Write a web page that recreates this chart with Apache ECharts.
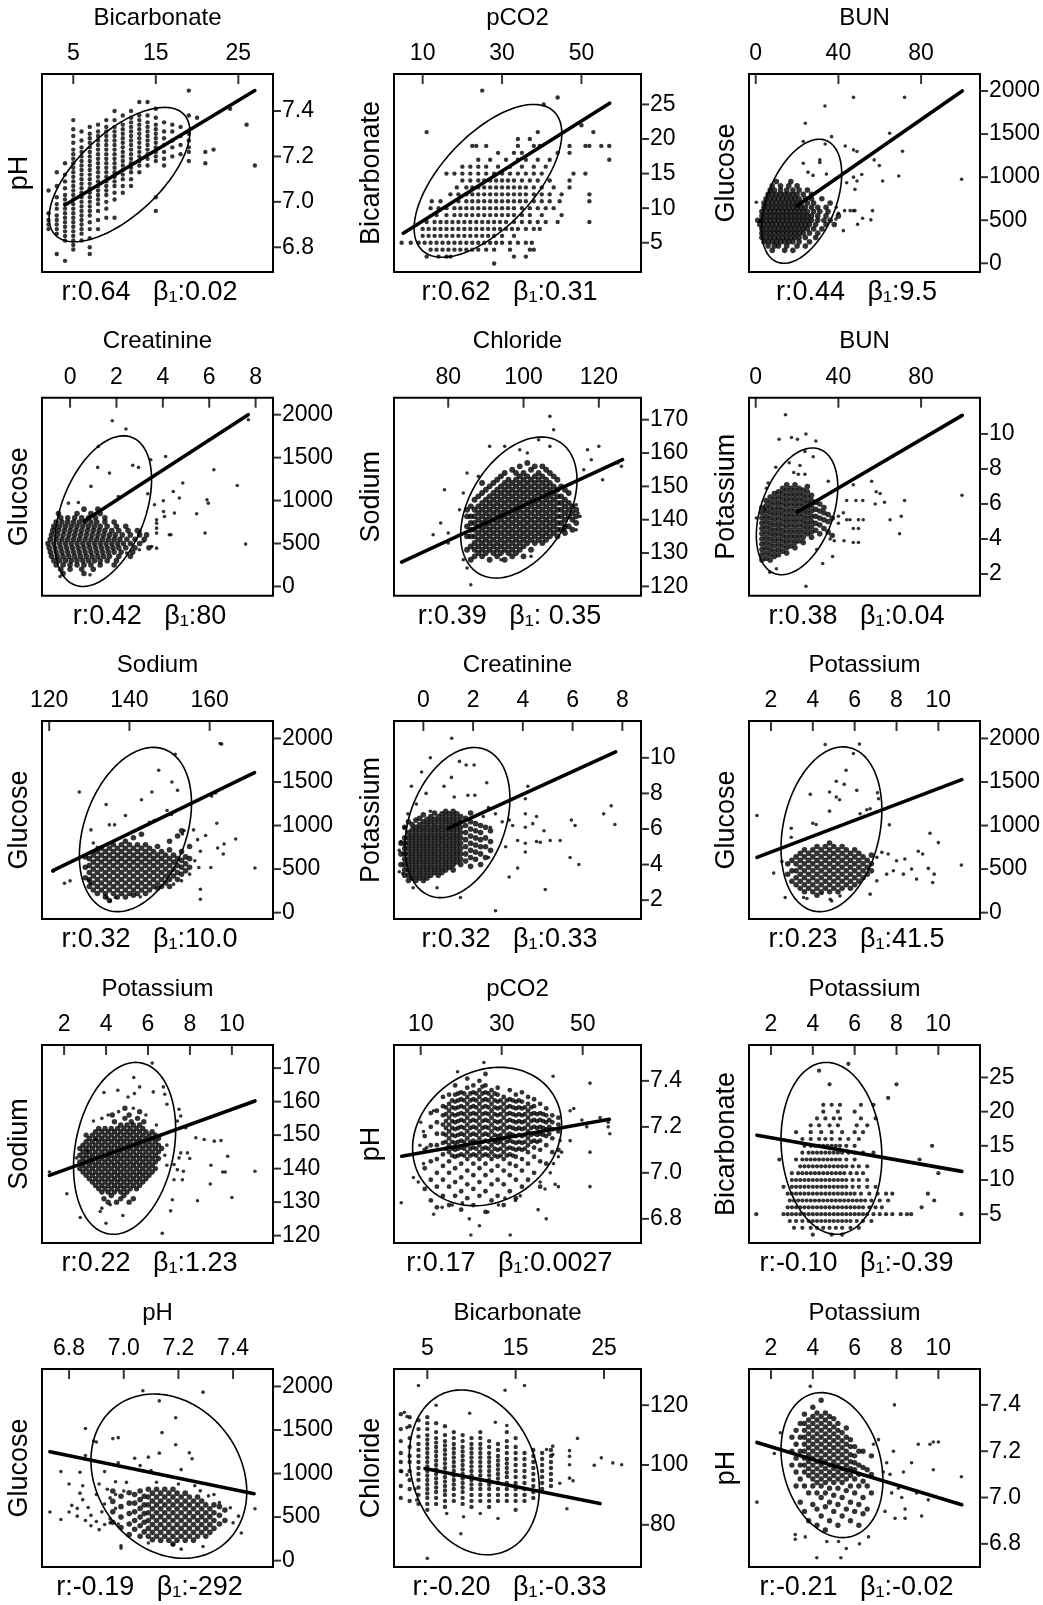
<!DOCTYPE html>
<html><head><meta charset="utf-8">
<script src="https://cdn.jsdelivr.net/npm/echarts@6/dist/echarts.min.js"></script>
<style>html,body{margin:0;padding:0;background:#fff}#c{width:1043px;height:1605px}</style>
</head><body><div id="c"></div>
<script>
// ---------- labels ----------
const xNames = ['Bicarbonate','pCO2','BUN','Creatinine','Chloride','BUN','Sodium','Creatinine','Potassium','Potassium','pCO2','Potassium','pH','Bicarbonate','Potassium'];
const yNames = ['pH','Bicarbonate','Glucose','Glucose','Sodium','Potassium','Glucose','Potassium','Glucose','Sodium','pH','Bicarbonate','Glucose','Chloride','pH'];
const rValues = ['0.64','0.62','0.44','0.42','0.39','0.38','0.32','0.32','0.23','0.22','0.17','-0.10','-0.19','-0.20','-0.21'];
const betaValues = ['0.02','0.31','9.5','80',' 0.35','0.04','10.0','0.33','41.5','1.23','0.0027','-0.39','-292','-0.33','-0.02'];
// ---------- axes ----------
const xRanges = [[1.21,29.2],[2.78,65.0],[-3.25,108.5],[-1.21,8.75],[65.6,131.2],[-3.25,108.5],[118.2,175.8],[-1.18,8.75],[0.95,11.99],[0.946,11.96],[3.41,64.4],[0.95,11.99],[6.701,7.546],[1.23,29.19],[0.95,11.99]];
const yRanges = [[6.691,7.563],[0.77,29.4],[-101,2197],[-108,2198],[117.2,176.6],[0.76,12.07],[-73,2200],[0.94,12.07],[-73,2200],[117.8,176.9],[6.695,7.556],[0.78,29.75],[-73,2200],[65.9,132.1],[6.70,7.555]];
const xTicks = [[5,15,25],[10,30,50],[0,40,80],[0,2,4,6,8],[80,100,120],[0,40,80],[120,140,160],[0,2,4,6,8],[2,4,6,8,10],[2,4,6,8,10],[10,30,50],[2,4,6,8,10],[6.8,7.0,7.2,7.4],[5,15,25],[2,4,6,8,10]];
const yTicks = [[6.8,7.0,7.2,7.4],[5,10,15,20,25],[0,500,1000,1500,2000],[0,500,1000,1500,2000],[120,130,140,150,160,170],[2,4,6,8,10],[0,500,1000,1500,2000],[2,4,6,8,10],[0,500,1000,1500,2000],[120,130,140,150,160,170],[6.8,7.0,7.2,7.4],[5,10,15,20,25],[0,500,1000,1500,2000],[80,100,120],[6.8,7.0,7.2,7.4]];
// ---------- ellipses [cx, cy, halfWidthX, halfHeightY, r] ----------
const ellipses = [[10.6,7.12,8.53,0.296,0.64],[26.45,13.95,18.6,11.05,0.62],[22.2,720,19.4,720,0.44],[1.43,877,2.085,877,0.42],[98.75,143.65,15.45,21.15,0.39],[20.0,5.58,19.7,3.62,0.38],[141.5,954,13.98,943,0.32],[1.37,6.36,2.11,4.22,0.32],[4.89,957,2.41,946,0.23],[4.885,146.05,2.435,25.65,0.22],[26.4,7.158,18.4,0.301,0.17],[4.89,14.63,2.41,12.57,-0.10],[7.165,970,0.285,943,-0.19],[10.32,97.55,7.36,27.55,-0.20],[4.915,7.14,2.435,0.313,-0.21]];
// ---------- fitted lines ----------
const fitLines = [[[4.0,6.986],[27.0,7.49]],[[5.12,6.38],[57.1,25.17]],[[20,668],[99.9,2000]],[[0.6,760],[7.68,2000]],[[67.6,127.3],[126.3,158.0]],[[20,5.53],[99.9,11.06]],[[120.9,481],[171.2,1608]],[[1.0,6.03],[7.73,10.34]],[[1.33,634],[11.12,1527]],[[1.3,138.0],[11.1,160.2]],[[5.3,7.072],[56.6,7.233]],[[1.33,16.56],[11.12,11.26]],[[6.73,1250],[7.477,769]],[[4.74,98.8],[24.55,87.1]],[[1.33,7.238],[11.12,6.969]]];

// ---------- points: columns [x, y...] or rows [y, x...] ----------
const phBicarbCols = [
[2,6.88,6.92,6.95,6.9,7.05],
[3,6.77,6.86,6.88,6.9,6.92,6.94,6.97,6.99,7.02,7.07,7.13],
[4,6.74,6.83,6.85,6.87,6.89,6.91,6.93,6.95,6.97,6.99,7.01,7.03,7.06,7.09,7.12,7.17],
[5,6.79,6.81,6.83,6.85,6.87,6.89,6.91,6.93,6.95,6.97,6.99,7.01,7.03,7.05,7.07,7.09,7.11,7.13,7.15,7.17,7.19,7.21,7.23,7.26,7.29,7.32,7.36],
[6,6.83,6.86,6.88,6.9,6.92,6.94,6.96,6.98,7.0,7.02,7.04,7.06,7.08,7.1,7.12,7.14,7.16,7.18,7.2,7.22,7.24,7.27,7.31],
[7,6.77,6.8,6.84,6.88,6.91,6.94,6.96,6.98,7.0,7.02,7.04,7.06,7.08,7.1,7.12,7.14,7.16,7.18,7.2,7.22,7.24,7.26,7.28,7.3,7.33],
[8,6.88,6.92,6.96,6.99,7.01,7.03,7.05,7.07,7.09,7.11,7.13,7.15,7.17,7.19,7.21,7.23,7.25,7.27,7.29,7.31,7.34],
[9,6.93,6.97,7.0,7.03,7.05,7.07,7.09,7.11,7.13,7.15,7.17,7.19,7.21,7.23,7.25,7.27,7.29,7.31,7.33,7.36],
[10,6.93,7.01,7.04,7.07,7.09,7.11,7.13,7.15,7.17,7.19,7.21,7.23,7.25,7.27,7.29,7.31,7.33,7.36,7.4],
[11,7.04,7.07,7.1,7.12,7.14,7.16,7.18,7.2,7.22,7.24,7.26,7.28,7.3,7.32,7.34,7.38],
[12,7.07,7.1,7.13,7.15,7.17,7.19,7.21,7.23,7.25,7.27,7.29,7.31,7.33,7.35,7.37,7.4],
[13,7.13,7.16,7.18,7.2,7.22,7.24,7.26,7.28,7.3,7.32,7.34,7.36,7.38,7.44],
[14,7.16,7.19,7.21,7.23,7.25,7.27,7.29,7.31,7.33,7.35,7.38,7.44],
[15,6.96,7.02,7.18,7.2,7.22,7.24,7.26,7.28,7.3,7.32,7.34,7.37,7.41],
[16,7.16,7.19,7.22,7.25,7.28,7.31,7.35],
[17,7.2,7.24,7.27,7.31,7.34],
[18,7.21,7.25,7.29,7.33],
[19,7.18,7.22,7.24,7.27,7.3,7.38,7.49],
[20,7.37],[21,7.17,7.22],[22,7.23],[24,7.41],[26,7.34],[27,7.16]
];
const bicarbPco2Rows = [
[2,28],
[3,11,14,16,17,33,36],
[4,12,13.5,15,16.5,18,19.5,21,22.5,24,26,28,32,37,38],
[5,4.7,7,9,10.5,12,13.5,15,16.5,18,19.5,21,22.5,24,25.5,27,28.5,30,32,34,36,37.5],
[6,10,11.5,13,14.5,16,17.5,19,20.5,22,23.5,25,26.5,28,30,33],
[7,10,11.5,13,14.5,16,17.5,19,20.5,22,23.5,25,26.5,28,29.5,31,32.5,34,36,38,39.5],
[8,11,13,14.5,16,17.5,19,20.5,22,23.5,25,26.5,28,29.5,31,33,35,37,39,41,44,52],
[9,13.5,16,18,19.5,21,22.5,24,25.5,27,28.5,30,31.5,33,35,37,40,45],
[10,12,14,16,18,19.5,21,22.5,24,25.5,27,28.5,30,31.5,33,35,37,39,41,43],
[11,12.3,14.5,19,21,22.5,24,25.5,27,28.5,30,31.5,33,34.5,36,38,40,42,44.5,52],
[12,17,19,21,22.5,24,25.5,27,28.5,30,31.5,33,34.5,36,38,40,42,45,52],
[13,18.6,21,22.5,24,25.5,27,28.5,30,31.5,33,34.5,36,38,40,43,47],
[14,20,22,24,25.5,27,28.5,30,31.5,33,35,37,39,42,47],
[15,16,18,20,22,24,26,28,30,32,34,36,38,40,48,51],
[16,20,22,24,26,29,32,35,38,41],
[17,24,27,31,34,36,39,42,57],
[18,29,33,35,44,47],
[19,22.5,23.5,26,34,38,39.5,47,51,52,55,57],
[20,34,37],[21,11,39,53],[22,50],[25,40.5],[26,44],[27,25]
];
const glucoseBunRows = [
[150,8,14,18],
[200,6,9,11,15,20,24],
[250,4,6,8,10,12,14,16,18,21,26],
[300,3,5,7,9,11,13,15,17,19,21,24,29],
[350,3,5,7,9,11,13,15,17,19,21,23,26,30],
[400,3,5,7,9,11,13,15,17,19,21,23,25,28,32],
[450,2,4,6,8,10,12,14,16,18,20,22,24,26,29,34,38],
[500,1,3,5,7,9,11,13,15,17,19,21,23,25,27,30,33,36],
[550,3,5,7,9,11,13,15,17,19,21,23,25,27,30,34,40],
[600,3,5,7,9,11,13,15,17,19,21,23,25,28,31,35],
[650,4,6,8,10,12,14,16,18,20,22,24,27,30,34],
[700,4,6,8,10,12,14,16,18,20,22,25,28,36],
[750,5,7,9,11,13,15,17,19,21,24,27,32],
[800,6,8,10,12,14,16,18,20,23,27],
[850,7,9,12,15,18,21,25],
[900,8,12,16,20],
[950,10,17]
];
const glucoseBunExtra = [[0.3,708],[2,490],[47.3,1926],[72,1926],[33.5,1826],[24,1625],[64.8,1509],[36.7,1470],[23,1413],[33.6,1385],[43.3,1362],[47.3,1316],[49,1297],[71,1300],[57.3,1200],[59.8,1134],[31,1200],[31,1170],[23,1162],[25.3,1058],[27.7,1020],[34.2,1035],[51.3,1030],[47.3,1000],[49,955],[44,935],[48,858],[61.4,955],[69.2,1014],[99.6,975],[43,611],[45.7,611],[47.3,611],[48,611],[56.5,611],[51.7,522],[49.3,452],[55.7,504],[42.4,379],[38.8,513],[40,580],[39,650]];
const glucoseCreatRows = [
[150,-0.3,0.6],
[200,-0.4,0,0.5,1.0],
[250,-0.6,-0.3,0,0.3,0.6,0.9,1.3,1.9],
[300,-0.7,-0.45,-0.2,0.05,0.3,0.55,0.8,1.05,1.3,1.6,2.0],
[350,-0.8,-0.55,-0.3,-0.05,0.2,0.45,0.7,0.95,1.2,1.45,1.7,2.1,2.6],
[400,-0.85,-0.6,-0.35,-0.1,0.15,0.4,0.65,0.9,1.15,1.4,1.65,1.9,2.2,2.7],
[450,-0.9,-0.65,-0.4,-0.15,0.1,0.35,0.6,0.85,1.1,1.35,1.6,1.85,2.1,2.4,2.8,3.4],
[500,-0.95,-0.7,-0.45,-0.2,0.05,0.3,0.55,0.8,1.05,1.3,1.55,1.8,2.05,2.3,2.6,3.0],
[550,-0.85,-0.6,-0.35,-0.1,0.15,0.4,0.65,0.9,1.15,1.4,1.65,1.9,2.15,2.45,2.8,3.2],
[600,-0.8,-0.55,-0.3,-0.05,0.2,0.45,0.7,0.95,1.2,1.45,1.7,1.95,2.25,2.6,3.0,3.3],
[650,-0.75,-0.5,-0.25,0,0.25,0.5,0.75,1.0,1.25,1.5,1.8,2.1,2.5,2.9],
[700,-0.7,-0.45,-0.2,0.05,0.3,0.55,0.8,1.05,1.3,1.6,2.0,2.4],
[750,-0.6,-0.35,-0.1,0.15,0.4,0.65,0.9,1.15,1.5,1.9],
[800,-0.4,-0.1,0.2,0.5,0.8,1.1,1.5],
[850,-0.5,0.3,0.9,1.3],
[900,0.6,1.2]
];
const glucoseCreatExtra = [[1.82,1930],[2.41,1833],[1.22,1631],[1.19,1386],[1.7,1320],[2.7,1410],[2.95,1386],[3.48,1475],[4.12,1514],[0.9,1165],[2.08,1048],[3.35,1079],[4.86,1204],[4.45,1106],[4.02,998],[4.71,1029],[3.64,951],[4.03,873],[4.07,815],[4.5,854],[5.46,846],[5.9,1009],[5.96,970],[6.2,1359],[7.21,1176],[7.69,1942],[5.82,621],[7.57,493],[3.73,776],[3.73,737],[3.73,679],[3.73,621],[4.28,601],[4.35,601],[3.52,465],[3.73,446],[2.99,427],[3.16,524],[3.02,640],[-0.07,970],[0.36,978],[-0.43,116],[0.86,135],[2.44,388]];
const sodiumChlorideCols = [
[85,131,135,138,141,143],
[86,128,132,135,137,139,141,144],
[87,129,131,133,135,137,139,141,143,146],
[88,130,132,134,136,138,140,142,144,147],
[89,129,131,133,135,137,139,141,143,145,148,151],
[90,130,132,134,136,138,140,142,144,146,149],
[91,128,131,133,135,137,139,141,143,145,147,150],
[92,130,132,134,136,138,140,142,144,146,148,151],
[93,129,131,133,135,137,139,141,143,145,147,149,152],
[94,130,132,134,136,138,140,142,144,146,148,150,153],
[95,128,131,133,135,137,139,141,143,145,147,149,151,154],
[96,130,132,134,136,138,140,142,144,146,148,150,152],
[97,129,131,133,135,137,139,141,143,145,147,149,151,155],
[98,130,132,134,136,138,140,142,144,146,148,150,152,154],
[99,131,133,135,137,139,141,143,145,147,149,151,153,156],
[100,129,132,134,136,138,140,142,144,146,148,150,152,154],
[101,133,135,137,139,141,143,145,147,149,151,153,157],
[102,131,134,136,138,140,142,144,146,148,150,152,155],
[103,133,135,137,139,141,143,145,147,149,151,153,156],
[104,134,136,138,140,142,144,146,148,150,152,154],
[105,133,135,137,139,141,143,145,147,149,151,153,156],
[106,134,136,138,140,142,144,146,148,150,152,155],
[107,135,137,139,141,143,145,147,149,151,154],
[108,136,138,140,142,144,146,148,150,153],
[109,135,137,139,141,143,145,147,149,152],
[110,137,139,141,143,145,147,150],
[111,136,138,140,142,144,146,149],
[112,138,141,143,145,148],
[113,137,140,142,144],
[114,139,141,143]
];
const sodiumChlorideExtra = [[107,171],[108,167],[104,164],[107,162],[91,162],[95,162],[99,161],[101,160],[117,161],[120,162],[118,158],[116,155],[125,157],[126,156],[121,152],[85,154],[88,153],[79,149],[84,148],[78,139],[76,135.5],[80,136],[80,133],[83,143],[84,128],[85,125.5],[86,120.5],[94,128],[102,129],[114,144.5],[114,137],[114.5,142],[115,141],[111,137]];
const potassiumBunCols = [
[3,2.8,3.1,3.4,3.7,4.0,4.3,4.6,4.9,5.2,5.5,5.8],
[5,2.9,3.2,3.5,3.8,4.1,4.4,4.7,5.0,5.3,5.6,5.9,6.2],
[7,2.8,3.1,3.4,3.7,4.0,4.3,4.6,4.9,5.2,5.5,5.8,6.1,6.4],
[9,3.0,3.3,3.6,3.9,4.2,4.5,4.8,5.1,5.4,5.7,6.0,6.3,6.6],
[11,3.1,3.4,3.7,4.0,4.3,4.6,4.9,5.2,5.5,5.8,6.1,6.4,6.7],
[13,3.3,3.6,3.9,4.2,4.5,4.8,5.1,5.4,5.7,6.0,6.3,6.6,6.9],
[15,3.2,3.5,3.8,4.1,4.4,4.7,5.0,5.3,5.6,5.9,6.2,6.5,6.8,7.1],
[17,3.6,3.9,4.2,4.5,4.8,5.1,5.4,5.7,6.0,6.3,6.6,6.9],
[19,3.5,3.8,4.1,4.4,4.7,5.0,5.3,5.6,5.9,6.2,6.5,6.8,7.1],
[21,3.9,4.2,4.5,4.8,5.1,5.4,5.7,6.0,6.3,6.6,6.9],
[23,3.8,4.1,4.4,4.7,5.0,5.3,5.6,5.9,6.2,6.5,6.8],
[25,4.3,4.6,4.9,5.2,5.5,5.8,6.1,6.4,6.7,7.0],
[27,4.1,4.4,4.7,5.0,5.3,5.6,5.9,6.2,6.5],
[29,4.5,4.9,5.3,5.7,6.1],
[31,4.3,4.8,5.2,5.6,6.0],
[33,4.6,5.1,5.5,5.8],
[35,4.4,5.0,5.4],
[37,4.2,5.2]
];
const potassiumBunExtra = [[14.4,11.1],[11.3,9.7],[17.3,9.8],[20.2,9.7],[24.3,10.0],[29.1,9.6],[23.8,9.0],[27.8,8.7],[9.7,8.1],[21.4,8.2],[16.2,8.35],[18.4,7.8],[20.6,7.7],[23.8,7.7],[6.0,7.2],[5.2,6.9],[0.3,5.2],[4.4,5.7],[6.8,2.1],[10,2.3],[24.3,1.3],[32.4,2.6],[37.2,3.0],[29.5,3.4],[36,4.0],[38,3.9],[42.7,3.9],[47.2,3.8],[49.7,3.8],[47.2,4.6],[49.7,4.6],[44,5.1],[45.6,5.1],[49.7,5.1],[52,5.1],[40,4.9],[40,5.3],[42.4,5.5],[44,6.2],[48.5,6.2],[51.8,6.2],[35.1,7.3],[47.2,7.1],[56.1,7.3],[58.3,6.7],[60.2,6.6],[62.3,6.1],[57.8,6.0],[65,5.1],[70.4,5.3],[72,6.2],[69.6,4.3],[99.8,6.5]];
const glucoseSodiumCols = [
[129,400,520,640],
[130,300,380,460,540,620],
[131,260,340,420,500,580,660],
[132,220,300,380,460,540,620,700],
[133,260,340,420,500,580,660,740],
[134,180,220,300,380,460,540,620,700],
[135,140,260,340,420,500,580,660,740],
[136,220,300,380,460,540,620,700,780],
[137,180,260,340,420,500,580,660,740],
[138,220,300,380,460,540,620,700,780],
[139,180,260,340,420,500,580,660,740,820],
[140,220,300,380,460,540,620,700,780],
[141,200,260,340,420,500,580,660,740,860],
[142,220,300,380,460,540,620,700,780],
[143,260,340,420,500,580,660,740,900],
[144,220,300,380,460,540,620,700,780],
[145,260,340,420,500,580,660,740],
[146,300,380,460,540,620,700],
[147,280,340,420,500,580,660,760],
[148,300,380,460,540,620,700],
[149,340,420,500,580,660],
[150,300,380,460,540,620,720,820],
[151,420,500,580,660],
[152,380,460,540,620,880],
[153,440,520,600,700,940],
[154,480,560,640],
[155,520,620,760]
];
const glucoseSodiumExtra = [[121,475],[123.8,338],[125.2,365],[127.5,1385],[134.2,1242],[139,1115],[135,1008],[136.3,1008],[130.4,950],[131,800],[132,750],[143,1296],[145.6,1385],[147.3,1635],[150.6,1500],[152,1404],[151.4,1819],[150.5,1127],[149.4,1173],[146.2,1058],[145,1038],[153.6,942],[153.2,904],[156,950],[157,838],[159,885],[157.7,704],[157.7,269],[157.7,154],[160.3,519],[161.8,1027],[162,742],[163.6,788],[163.4,673],[160.5,1338],[161.5,1373],[162.6,1942],[163,1935],[166.5,846],[171.3,512],[156.3,596],[157.3,519],[155,442],[153,365],[151,327],[136.5,173],[134.4,173],[135.2,135],[142.7,181],[129.8,365],[130.2,335]];
const potassiumCreatCols = [
[-0.9,4.0,4.6,5.2],
[-0.75,3.4,3.7,4.0,4.3,4.6,4.9,5.2,5.5,6.1],
[-0.6,3.1,3.4,3.7,4.0,4.3,4.6,4.9,5.2,5.5,5.8,6.4],
[-0.45,3.25,3.55,3.85,4.15,4.45,4.75,5.05,5.35,5.65,5.95,6.25],
[-0.3,3.1,3.4,3.7,4.0,4.3,4.6,4.9,5.2,5.5,5.8,6.1,6.5],
[-0.15,3.25,3.55,3.85,4.15,4.45,4.75,5.05,5.35,5.65,5.95,6.25,6.6],
[0,3.1,3.4,3.7,4.0,4.3,4.6,4.9,5.2,5.5,5.8,6.1,6.4,6.8],
[0.15,3.25,3.55,3.85,4.15,4.45,4.75,5.05,5.35,5.65,5.95,6.25,6.55],
[0.3,3.4,3.7,4.0,4.3,4.6,4.9,5.2,5.5,5.8,6.1,6.4,6.7],
[0.45,3.55,3.85,4.15,4.45,4.75,5.05,5.35,5.65,5.95,6.25,6.55,6.9],
[0.6,3.4,3.7,4.0,4.3,4.6,4.9,5.2,5.5,5.8,6.1,6.4,6.7],
[0.75,3.55,3.85,4.15,4.45,4.75,5.05,5.35,5.65,5.95,6.25,6.55,6.85],
[0.9,3.7,4.0,4.3,4.6,4.9,5.2,5.5,5.8,6.1,6.4,6.7,7.0],
[1.05,3.85,4.15,4.45,4.75,5.05,5.35,5.65,5.95,6.25,6.55,6.85],
[1.2,3.7,4.0,4.3,4.6,4.9,5.2,5.5,5.8,6.1,6.4,6.7,7.0],
[1.35,4.15,4.45,4.75,5.05,5.35,5.65,5.95,6.25,6.55,6.85],
[1.5,4.0,4.3,4.6,4.9,5.2,5.5,5.8,6.1,6.4,6.7],
[1.7,4.2,4.6,5.0,5.4,5.8,6.2,6.6],
[1.9,3.9,4.4,4.8,5.2,5.6,6.0,6.4,6.9],
[2.1,4.3,4.7,5.1,5.5,5.9,6.3],
[2.3,4.0,4.6,5.0,5.4,5.8,6.2],
[2.5,4.4,5.0,5.5,6.1],
[2.7,4.8,5.3,5.9]
];
const potassiumCreatExtra = [[1.14,11.1],[0.28,10.0],[-0.07,9.2],[1.45,9.8],[1.72,9.6],[2.04,9.6],[2.55,8.6],[1.13,8.9],[-0.48,8.4],[0.83,8.4],[0.11,8.0],[1.24,7.8],[1.79,7.9],[2.07,7.9],[-0.28,7.4],[0.28,7.0],[2.62,7.2],[2.41,6.7],[2.69,6.1],[2.9,6.85],[3.17,6.4],[3.45,6.5],[3.59,6.2],[3.79,5.35],[3.31,5.0],[3.79,3.8],[3.45,3.3],[2.62,4.4],[2.9,1.4],[1.49,2.15],[0.55,2.7],[-0.41,2.7],[-0.83,3.5],[-0.97,3.6],[-0.97,4.8],[-0.9,5.3],[-0.76,6.1],[-0.62,6.85],[4.2,8.4],[4.1,7.7],[4.1,6.85],[4.55,6.7],[4.4,6.3],[4.1,6.1],[4.85,5.9],[5.1,5.35],[4.55,5.3],[4.7,5.25],[4.1,5.2],[4.1,4.7],[5.5,5.35],[5.95,6.5],[6.1,6.2],[5.9,4.4],[6.25,4.0],[4.9,2.6],[7.25,6.85],[7.55,7.3],[7.7,6.25]];
const glucoseKCols = [
[2.8,440,560],
[3.0,360,480,600],
[3.2,320,400,480,560,640],
[3.4,280,360,440,520,600,680],
[3.6,240,320,400,480,560,640,720],
[3.8,280,360,440,520,600,680],
[4.0,240,320,400,480,560,640,720],
[4.2,200,280,360,440,520,600,680,760],
[4.4,240,320,400,480,560,640,720],
[4.6,280,360,440,520,600,680,760],
[4.8,240,320,400,480,560,640,720,800],
[5.0,280,360,440,520,600,680,760],
[5.2,240,320,400,480,560,640,720],
[5.4,280,360,440,520,600,680,760],
[5.6,320,400,480,560,640,720],
[5.8,280,360,440,520,600,680],
[6.0,320,400,480,560,640,720],
[6.2,360,440,520,600,680],
[6.4,400,480,560,640],
[6.6,440,520,600],
[6.8,480,560,660]
];
const glucoseKExtra = [[1.33,1115],[4.59,1931],[6.23,1935],[5.94,1827],[5.59,1635],[5.12,1508],[5.5,1473],[3.88,1358],[4.8,1385],[5.12,1327],[5.28,1296],[6.1,1404],[7.09,1377],[7.14,1308],[6.74,1192],[6.58,1181],[6.26,1135],[4.8,1165],[4.0,1027],[4.16,1012],[2.97,969],[2.97,865],[7.66,1008],[9.6,912],[10,804],[9.04,704],[9.25,673],[9.52,508],[9.8,442],[8.96,385],[9.73,346],[8.0,596],[8.4,615],[8.72,500],[8.33,442],[7.85,481],[7.53,442],[7.6,673],[7.3,692],[7.06,635],[11.1,546],[2.13,454],[2.68,173],[3.56,173],[3.72,162],[4.43,219],[4.83,154],[4.9,135],[5.3,192],[6.74,212],[7.06,365],[2.52,588]];
const sodiumKRows = [
[130,4.1,4.5,5.1],
[131,3.9,4.7,5.3],
[132,4.25,4.85],
[133,3.8,4.1,4.4,4.7,5.0],
[134,3.65,3.95,4.25,4.55,4.85,5.15,5.45],
[135,3.5,3.8,4.1,4.4,4.7,5.0,5.3,5.6],
[136,3.35,3.65,3.95,4.25,4.55,4.85,5.15,5.45,5.75],
[137,3.2,3.5,3.8,4.1,4.4,4.7,5.0,5.3,5.6,5.9],
[138,3.05,3.35,3.65,3.95,4.25,4.55,4.85,5.15,5.45,5.75,6.05],
[139,2.9,3.2,3.5,3.8,4.1,4.4,4.7,5.0,5.3,5.6,5.9,6.2],
[140,2.75,3.05,3.35,3.65,3.95,4.25,4.55,4.85,5.15,5.45,5.75,6.05,6.35],
[141,2.9,3.2,3.5,3.8,4.1,4.4,4.7,5.0,5.3,5.6,5.9,6.2],
[142,2.75,3.05,3.35,3.65,3.95,4.25,4.55,4.85,5.15,5.45,5.75,6.05,6.35],
[143,2.9,3.2,3.5,3.8,4.1,4.4,4.7,5.0,5.3,5.6,5.9,6.2,6.5],
[144,2.75,3.05,3.35,3.65,3.95,4.25,4.55,4.85,5.15,5.45,5.75,6.05,6.35],
[145,2.9,3.2,3.5,3.8,4.1,4.4,4.7,5.0,5.3,5.6,5.9,6.2,6.5],
[146,2.75,3.05,3.35,3.65,3.95,4.25,4.55,4.85,5.15,5.45,5.75,6.05,6.35,6.65],
[147,2.9,3.2,3.5,3.8,4.1,4.4,4.7,5.0,5.3,5.6,5.9,6.2,6.5],
[148,3.05,3.35,3.65,3.95,4.25,4.55,4.85,5.15,5.45,5.75,6.05,6.35],
[149,3.2,3.5,3.8,4.1,4.4,4.7,5.0,5.3,5.6,5.9,6.2,6.5],
[150,3.05,3.35,3.65,3.95,4.25,4.55,4.85,5.15,5.45,5.75,6.05,6.35],
[151,3.5,3.8,4.1,4.4,4.7,5.0,5.3,5.6,5.9,6.2],
[152,3.65,3.95,4.25,4.55,4.85,5.15,5.45,5.75],
[153,4.7,5.0,5.3,5.6],
[154,4.4,5.2,5.8],
[155,4.9,5.5],
[156,4.3,5.1],
[157,5.6],
[158,4.9]
];
const sodiumKExtra = [[6.2,171.5],[5.32,167.2],[3.9,162.7],[4.56,163.4],[5.05,161.4],[5.35,162.4],[5.6,164.4],[6.25,162.9],[6.73,164.4],[6.8,162.2],[6.9,159.2],[7.48,157.7],[7.56,155.7],[7.4,154.2],[7.8,152.2],[8.28,149.2],[8.68,148.7],[9.16,148.2],[9.48,148.4],[7.56,144.7],[7.88,144.7],[7.99,143],[7.48,143.2],[7.24,141.2],[7.4,139.7],[9.0,141],[9.8,143.7],[9.56,139],[9.68,139],[11.1,139.2],[7.24,136.7],[7.69,139.2],[7.64,136.7],[8.97,135.4],[10,131.4],[8.36,130.4],[7.16,130.7],[7.08,127.4],[6.68,120.7],[2.77,125.4],[4.0,123.7],[4.8,126],[3.72,127.2],[3.8,128.2],[4.2,129.2],[2.13,132.5],[1.3,139],[2.6,143.2],[3.1,145.2],[3.4,154.2],[3.5,148.7],[4.6,157],[5.3,158],[4.1,156],[3.8,155],[5.9,156],[6.4,153],[6.6,150],[6.9,147],[6.8,144],[6.9,141]];
const phPco2Cols = [
[11,6.93,7.02,7.1,7.16],
[12.5,6.88,6.97,7.05,7.12,7.2,7.26],
[14,6.85,6.94,7.0,7.06,7.12,7.17,7.22,7.27],
[15.5,6.9,6.97,7.03,7.08,7.13,7.17,7.21,7.25,7.29,7.33],
[17,6.86,6.94,7.0,7.05,7.09,7.12,7.15,7.18,7.21,7.24,7.27,7.3,7.34],
[18.5,6.9,6.96,7.02,7.07,7.1,7.13,7.16,7.19,7.22,7.25,7.28,7.31,7.34,7.38],
[20,6.84,6.92,6.98,7.04,7.08,7.11,7.14,7.17,7.2,7.23,7.26,7.29,7.32,7.35],
[21.5,6.89,6.95,7.01,7.06,7.09,7.12,7.15,7.18,7.21,7.24,7.27,7.3,7.33,7.37,7.41],
[23,6.86,6.93,6.99,7.04,7.08,7.11,7.14,7.17,7.2,7.23,7.26,7.29,7.32,7.35,7.38],
[24.5,6.9,6.96,7.02,7.06,7.09,7.12,7.15,7.18,7.21,7.24,7.27,7.3,7.33,7.36,7.4],
[26,6.83,6.92,6.99,7.04,7.08,7.11,7.14,7.17,7.2,7.23,7.26,7.29,7.32,7.35,7.38,7.43],
[27.5,6.88,6.95,7.01,7.06,7.09,7.12,7.15,7.18,7.21,7.24,7.27,7.3,7.33,7.36],
[29,6.9,6.97,7.03,7.07,7.1,7.13,7.16,7.19,7.22,7.25,7.28,7.31,7.34,7.37],
[30.5,6.86,6.95,7.01,7.06,7.09,7.12,7.15,7.18,7.21,7.24,7.27,7.3,7.33],
[32,6.92,6.99,7.04,7.08,7.11,7.14,7.17,7.2,7.23,7.26,7.29,7.32,7.36],
[33.5,6.89,6.97,7.03,7.07,7.1,7.13,7.16,7.19,7.22,7.25,7.28,7.31,7.34],
[35,6.94,7.01,7.06,7.1,7.13,7.16,7.19,7.22,7.25,7.28,7.31,7.35],
[36.5,6.97,7.04,7.09,7.12,7.15,7.18,7.21,7.24,7.27,7.3,7.33],
[38,7.0,7.07,7.11,7.14,7.17,7.2,7.23,7.26,7.29,7.32],
[39.5,6.94,7.05,7.1,7.14,7.17,7.2,7.23,7.26,7.3],
[41,7.04,7.12,7.16,7.19,7.22,7.25,7.28],
[42.5,7.09,7.15,7.19,7.22,7.25],
[44,7.1,7.18,7.21,7.24],
[16.25,7.105,7.135,7.165,7.195,7.225,7.255,7.285],
[17.75,7.075,7.105,7.135,7.165,7.195,7.225,7.255,7.285,7.315],
[19.25,7.075,7.105,7.135,7.165,7.195,7.225,7.255,7.285,7.315,7.345],
[20.75,7.075,7.105,7.135,7.165,7.195,7.225,7.255,7.285,7.315,7.345],
[22.25,7.075,7.105,7.135,7.165,7.195,7.225,7.255,7.285,7.315,7.345],
[23.75,7.075,7.105,7.135,7.165,7.195,7.225,7.255,7.285,7.315,7.345],
[25.25,7.075,7.105,7.135,7.165,7.195,7.225,7.255,7.285,7.315,7.345,7.375],
[26.75,7.075,7.105,7.135,7.165,7.195,7.225,7.255,7.285,7.315,7.345],
[28.25,7.075,7.105,7.135,7.165,7.195,7.225,7.255,7.285,7.315,7.345],
[29.75,7.075,7.105,7.135,7.165,7.195,7.225,7.255,7.285,7.315],
[31.25,7.075,7.105,7.135,7.165,7.195,7.225,7.255,7.285,7.315],
[32.75,7.075,7.105,7.135,7.165,7.195,7.225,7.255,7.285,7.315],
[34.25,7.105,7.135,7.165,7.195,7.225,7.255,7.285,7.315],
[35.75,7.105,7.135,7.165,7.195,7.225,7.255,7.285],
[37.25,7.135,7.165,7.195,7.225,7.255,7.285],
[38.75,7.135,7.165,7.195,7.225,7.255],
[40.25,7.165,7.195,7.225,7.255],
[41.75,7.17,7.2,7.23]
];
const phPco2Extra = [[5.2,6.87],[25.6,7.48],[19.1,7.44],[8.2,6.98],[9.4,6.96],[10.7,7.04],[13.2,7.27],[10.7,7.18],[10,7.22],[11.5,7.11],[9.8,7.12],[13.2,6.82],[15.3,6.85],[17.8,6.86],[20.3,6.87],[22,6.8],[24.5,6.77],[22.4,6.73],[32.1,6.73],[26.6,6.83],[29.2,6.86],[30.8,6.89],[33.4,6.88],[34.6,6.9],[42.7,7.42],[51.8,7.39],[46.9,7.27],[47.8,7.28],[49.8,7.23],[51,7.2],[54.3,7.24],[56.3,7.22],[56.3,7.2],[56.7,7.17],[51.8,7.09],[44.4,7.14],[44.8,7.09],[46.9,7.14],[44,7.07],[42.8,7.04],[42,7.0],[39.5,6.96],[40.7,6.93],[43.2,6.95],[44,6.94],[51.8,6.94],[39,6.84],[41,6.8]];
const bicarbKRows = [
[2,4.0,4.9,5.4],
[3,3.1,3.5,3.9,4.2,4.5,4.8,5.1,5.4,5.8,6.2],
[4,2.9,3.2,3.5,3.8,4.0,4.2,4.4,4.6,4.8,5.0,5.2,5.4,5.6,5.8,6.1,6.4,6.8],
[5,1.3,2.6,2.8,3.0,3.2,3.4,3.6,3.8,4.0,4.2,4.4,4.6,4.8,5.0,5.2,5.4,5.6,5.8,6.0,6.2,6.4,6.6,6.9,7.2,7.5,7.8,8.2,8.5,8.7,11.1],
[6,2.8,3.0,3.2,3.4,3.6,3.8,4.0,4.2,4.4,4.6,4.8,5.0,5.2,5.4,5.6,5.8,6.0,6.2,6.4,6.7,7.0,7.3,9.2],
[7,2.9,3.1,3.3,3.5,3.7,3.9,4.1,4.3,4.5,4.7,4.9,5.1,5.3,5.5,5.7,5.9,6.1,6.3,6.5,6.8,7.2,7.6,9.8],
[8,2.8,3.0,3.2,3.4,3.6,3.8,4.0,4.2,4.4,4.6,4.8,5.0,5.2,5.4,5.6,5.8,6.0,6.3,6.7,7.1,7.5,7.8,9.5],
[9,2.6,3.0,3.2,3.4,3.6,3.8,4.0,4.2,4.4,4.6,4.8,5.0,5.2,5.4,5.6,5.9,6.2,6.6,7.0],
[10,3.0,3.2,3.4,3.6,3.8,4.0,4.2,4.4,4.6,4.8,5.0,5.2,5.4,5.6,5.9,6.2,6.6],
[11,3.0,3.3,3.5,3.7,3.9,4.1,4.3,4.5,4.7,4.9,5.1,5.3,5.5,5.8,6.1,6.4,10.0],
[12,3.4,3.6,3.8,4.0,4.2,4.4,4.6,4.8,5.0,5.2,5.4,5.6,5.9,6.2,6.6],
[13,2.4,3.2,3.5,3.7,3.9,4.1,4.3,4.5,4.7,4.9,5.1,5.3,5.6,6.0,9.1],
[14,3.5,3.8,4.0,4.2,4.4,4.6,4.8,5.0,5.2,5.4,5.7,6.0,6.4,6.9],
[15,3.6,3.9,4.1,4.3,4.5,4.7,4.9,5.1,5.3,5.6,6.0,9.7],
[16,3.5,3.9,4.3,4.6,4.9,5.3,5.7,6.2],
[17,3.2,3.9,4.4,4.9,5.4,6.0,6.4],
[18,3.9,4.3,4.8,5.2,6.1,6.6],
[19,4.2,4.6,5.0,5.3,6.3,7.0],
[20,4.5,5.2,6.0],
[21,4.5,4.9,5.3,6.3,6.9],
[22,7.6],[24,4.8,8.0],[26,4.3],[27,5.7]
];
const glucosePhCols = [
[6.96,440,560,680,800],
[6.99,380,500,620,740],
[7.02,300,420,540,660,780],
[7.04,360,460,560,660,760],
[7.06,280,400,500,600,700,800],
[7.075,330,440,540,640,740],
[7.09,280,370,460,550,640,730,820],
[7.105,240,325,415,505,595,685,775],
[7.12,280,370,460,550,640,730,820],
[7.135,235,325,415,505,595,685,775],
[7.15,280,370,460,550,640,730,820],
[7.165,235,325,415,505,595,685,775],
[7.18,190,280,370,460,550,640,730,820],
[7.195,235,325,415,505,595,685,775],
[7.21,280,370,460,550,640,730],
[7.225,235,325,415,505,595,685,775],
[7.24,280,370,460,550,640,730],
[7.255,235,325,415,505,595,685],
[7.27,280,370,460,550,640,730],
[7.285,325,415,505,595,685],
[7.3,280,370,460,550,640],
[7.315,325,415,505,595],
[7.33,370,460,550,640],
[7.35,420,520,620],
[7.37,460,580]
];
const glucosePhExtra = [[6.73,558],[6.77,473],[6.8,558],[6.81,635],[6.83,511],[6.77,1022],[6.84,1014],[6.86,1517],[6.8,879],[6.85,859],[6.84,775],[6.89,1374],[6.9,1362],[6.96,1401],[6.98,1412],[6.86,1207],[6.98,1122],[7.04,1176],[7.06,1091],[6.93,1022],[6.97,906],[7.01,898],[7.07,1950],[7.29,1934],[7.13,1834],[7.19,1640],[7.14,1470],[7.09,1188],[7.13,1234],[7.19,1331],[7.24,1238],[7.25,1169],[7.21,1045],[7.16,975],[7.07,1033],[7.1,1033],[7.28,801],[7.31,743],[7.35,666],[7.39,608],[7.4,434],[7.42,511],[7.43,318],[7.48,596],[6.99,171],[6.99,144],[7.09,202],[7.29,163],[7.21,132],[7.18,183],[6.91,356],[6.93,415],[6.95,434],[6.85,700],[6.87,610],[6.88,520],[6.9,450],[6.9,760],[6.92,560],[6.93,650],[6.95,480],[6.95,720],[6.97,600],[6.98,420],[6.88,400],[6.86,460],[6.83,600],[7.0,800],[6.94,820],[6.91,880],[6.97,760],[7.12,900],[7.2,880],[7.26,860],[7.33,760]];
const chlorideBicarbCols = [
[2,89,93,98,101,104,108,112,117],
[3,88,92,95,98,101,103,106,109,113,116],
[4,87,90,92.5,95,97,99,101,103,105,107,109.5,112,115],
[5,85,87,89,90.5,92,93.5,95,96.5,98,99.5,101,102.5,104,105.5,107,108.5,110,112,114,116],
[6,87,89,91,92.5,94,95.5,97,98.5,100,101.5,103,104.5,106,107.5,109,111,114],
[7,86,88,90,91.5,93,94.5,96,97.5,99,100.5,102,103.5,105,106.5,108,110,113],
[8,88,90,92,93.5,95,96.5,98,99.5,101,102.5,104,105.5,107,109,111],
[9,87,89,91,92.5,94,95.5,97,98.5,100,101.5,103,104.5,106,108,110],
[10,86,88,90,92,93.5,95,96.5,98,99.5,101,102.5,104,105.5,107,109],
[11,88,90,92,93.5,95,96.5,98,99.5,101,102.5,104,105.5,107,109,111],
[12,86,88,90,92,93.5,95,96.5,98,99.5,101,102.5,104,106,108],
[13,88,90,92,94,95.5,97,98.5,100,101.5,103,105,107],
[14,88,90,92,94,96,97.5,99,100.5,102,104,106,108,111],
[15,85,88,90,92,94,96,98,100,102,104,106,109],
[16,88,90,92,94,96,98,100,102,104],
[17,89,91,93,95,97,99,101,103,105],
[18,92,94,96,98,100,102,104],
[19,93,95,97,99,101,103,105]
];
const chlorideBicarbExtra = [[4,126.6],[5,68.8],[6,120],[9.8,117.3],[2.4,117.6],[2.7,116.2],[2.7,112.5],[2.1,97.8],[2.7,96.7],[3.6,92],[3.8,88.3],[7.2,83.8],[9.1,82.7],[11,83.8],[13,82.1],[8.8,77],[12.7,114.3],[14,113.2],[13.8,125],[16,126.6],[22,108.9],[21.1,104.8],[21.1,102.9],[21.1,100.1],[21.1,95.6],[21.5,94.7],[20,93.9],[20.8,85.4],[23.9,99.9],[24.7,102.4],[26,100.7],[27,100.1],[18.5,105.2],[19.2,106.3],[19.2,103.5]];
const phKCols = [
[3.0,7.14,7.2,7.26],
[3.2,7.05,7.11,7.17,7.23,7.29],
[3.4,6.98,7.08,7.14,7.2,7.26,7.32],
[3.6,6.94,7.05,7.11,7.14,7.17,7.2,7.23,7.26,7.29,7.32,7.36],
[3.8,6.9,7.02,7.095,7.125,7.155,7.185,7.215,7.245,7.275,7.305,7.335],
[4.0,6.97,7.05,7.08,7.11,7.14,7.17,7.2,7.23,7.26,7.29,7.32,7.35,7.39],
[4.2,6.88,6.95,7.02,7.065,7.095,7.125,7.155,7.185,7.215,7.245,7.275,7.305,7.335,7.365],
[4.4,6.92,7.0,7.05,7.08,7.11,7.14,7.17,7.2,7.23,7.26,7.29,7.32,7.35,7.42],
[4.6,6.86,6.96,7.02,7.065,7.095,7.125,7.155,7.185,7.215,7.245,7.275,7.305,7.335,7.365],
[4.8,6.9,6.98,7.04,7.08,7.11,7.14,7.17,7.2,7.23,7.26,7.29,7.32,7.35],
[5.0,6.94,7.01,7.065,7.095,7.125,7.155,7.185,7.215,7.245,7.275,7.305,7.34],
[5.2,6.88,6.97,7.04,7.08,7.11,7.14,7.17,7.2,7.23,7.26,7.29,7.32],
[5.4,6.92,7.0,7.065,7.095,7.125,7.155,7.185,7.215,7.245,7.28],
[5.6,6.95,7.03,7.08,7.11,7.14,7.17,7.2,7.23,7.26,7.3],
[5.8,6.9,6.98,7.05,7.095,7.125,7.155,7.185,7.22,7.25],
[6.0,6.94,7.02,7.08,7.12,7.15,7.18,7.22],
[6.2,6.88,6.97,7.05,7.1,7.14,7.2],
[6.4,6.93,7.0,7.07,7.13,7.2],
[6.6,6.95,7.05,7.12],
[6.8,7.02,7.1,7.18]
];
const phKExtra = [[3.88,7.48],[7.9,7.40],[1.33,6.98],[2.16,7.19],[2.45,7.28],[3.16,6.82],[3.64,6.83],[3.16,6.84],[4.19,6.74],[5.34,6.74],[6.23,6.8],[6.66,6.83],[5.6,6.78],[4.67,6.81],[5.23,6.81],[7.53,7.15],[7.85,7.2],[8.33,7.11],[8.72,7.15],[9.04,7.23],[9.6,7.23],[9.76,7.24],[10,7.24],[9.76,7.12],[11.1,7.09],[7.45,6.94],[7.93,6.91],[8.41,6.91],[8.41,6.95],[9.2,6.92],[7.77,7.02],[8.09,7.04],[8.25,7.0],[8.96,7.02],[9.52,6.99],[7.37,7.11],[7.69,7.1],[6.9,7.23],[7.14,7.25]];

// ---------- assembly ----------
function byCol(cols){const o=[];cols.forEach(c=>{for(let i=1;i<c.length;i++)o.push([c[0],c[i]]);});return o;}
function byRow(rows){const o=[];rows.forEach(r=>{for(let i=1;i<r.length;i++)o.push([r[i],r[0]]);});return o;}
const panelCore = [
  byCol(phBicarbCols), byRow(bicarbPco2Rows), byRow(glucoseBunRows), byRow(glucoseCreatRows), byCol(sodiumChlorideCols),
  byCol(potassiumBunCols), byCol(glucoseSodiumCols), byCol(potassiumCreatCols), byCol(glucoseKCols), byRow(sodiumKRows),
  byCol(phPco2Cols), byRow(bicarbKRows), byCol(glucosePhCols), byCol(chlorideBicarbCols), byCol(phKCols)
];
const panelExtra = [
  [], [], glucoseBunExtra, glucoseCreatExtra, sodiumChlorideExtra,
  potassiumBunExtra, glucoseSodiumExtra, potassiumCreatExtra, glucoseKExtra, sodiumKExtra,
  phPco2Extra, [], glucosePhExtra, chlorideBicarbExtra, phKExtra
];

const FONT = '"Liberation Sans", Arial, Helvetica, sans-serif';
const colL = [42, 394, 749], colR = [273, 641, 980];
const rowT = [74, 397.7, 721, 1045, 1369];
const BOX_H = 198;
// dot size of the dense groups (overlapping dots in the original)
const coreSize = [4.4,4.4,5.6,5.6,5.9,5.6,5.6,5.6,5.6,5.4,4.8,4.2,5.6,4.4,5.4];
const DOT = 3.6;

function fmtFor(ticks){ const dec = ticks.some(v=>Math.abs(v-Math.round(v))>1e-9); return v => dec ? (+v).toFixed(1) : String(Math.round(v)); }

const grids=[], xAxes=[], yAxes=[], series=[], graphics=[];
for (let i=0;i<15;i++){
  const c=i%3, r=Math.floor(i/3);
  const left=colL[c], top=rowT[r], width=colR[c]-colL[c];
  const xMax = xRanges[i][1], yMax = yRanges[i][1];
  grids.push({left, top, width, height:BOX_H, show:true, borderColor:'#000', borderWidth:2, backgroundColor:'rgba(0,0,0,0)', containLabel:false, outerBoundsMode:'none'});
  xAxes.push({gridIndex:i, type:'value', position:'top', min:xRanges[i][0], max:xMax,
    axisLine:{show:false, onZero:false}, splitLine:{show:false}, axisTick:{show:false},
    axisLabel:{show:true, customValues:xTicks[i], margin:9, fontSize:23, color:'#000', fontFamily:FONT, formatter:fmtFor(xTicks[i])}});
  yAxes.push({gridIndex:i, type:'value', position:'right', min:yRanges[i][0], max:yMax,
    axisLine:{show:false, onZero:false}, splitLine:{show:false}, axisTick:{show:false},
    axisLabel:{show:true, customValues:yTicks[i], margin:9, fontSize:23, color:'#000', fontFamily:FONT, formatter:fmtFor(yTicks[i])}});
  series.push({type:'scatter', xAxisIndex:i, yAxisIndex:i, data:panelCore[i], symbol:'circle', symbolSize:coreSize[i],
    itemStyle:{color:'#000'}, silent:true, z:2});
  series.push({type:'scatter', xAxisIndex:i, yAxisIndex:i, data:panelExtra[i], symbol:'circle', symbolSize:DOT,
    itemStyle:{color:'#000'}, silent:true, z:2});
  series.push({type:'line', xAxisIndex:i, yAxisIndex:i, data:fitLines[i], symbol:'none', silent:true,
    lineStyle:{color:'#000', width:3.6, cap:'round'}, z:4});
  const e = ellipses[i];
  series.push({type:'custom', xAxisIndex:i, yAxisIndex:i, data:[[e[0],e[1]]], silent:true, z:5,
    renderItem:(params, api)=>{
      const d = Math.acos(e[4]); const pts=[];
      for(let k=0;k<=144;k++){ const t=k/144*2*Math.PI; pts.push(api.coord([e[0]+e[2]*Math.cos(t), e[1]+e[3]*Math.cos(t+d)])); }
      return {type:'polyline', shape:{points:pts}, style:{stroke:'#000', fill:null, lineWidth:1.6}};
    }});
  // tick marks as rect symbols sitting on the tick values (top ticks point inward, right ticks outward)
  series.push({type:'scatter', xAxisIndex:i, yAxisIndex:i, data:xTicks[i].map(v=>[v, yMax]), symbol:'rect',
    symbolSize:[2, 10], symbolOffset:[0, 5], clip:false, silent:true, itemStyle:{color:'#000'}, z:6});
  series.push({type:'scatter', xAxisIndex:i, yAxisIndex:i, data:yTicks[i].map(v=>[xMax, v]), symbol:'rect',
    symbolSize:[8, 2], symbolOffset:[4, 0], clip:false, silent:true, itemStyle:{color:'#000'}, z:6});
  graphics.push({type:'text', x:left+width/2, y:top-56, silent:true,
    style:{text:xNames[i], fontSize:24, fontFamily:FONT, fill:'#000', align:'center', verticalAlign:'middle'}});
  graphics.push({type:'text', x:left-22, y:top+BOX_H/2, rotation:Math.PI/2, silent:true,
    style:{text:yNames[i], fontSize:27, fontFamily:FONT, fill:'#000', align:'center', verticalAlign:'middle'}});
  graphics.push({type:'text', x:left+width/2-8, y:top+BOX_H+21, silent:true,
    style:{text:'r:'+rValues[i]+'   \u03B2\u2081:'+betaValues[i], fontSize:27, fontFamily:FONT, fill:'#000', align:'center', verticalAlign:'middle'}});
}

const chart = echarts.init(document.getElementById('c'), null, {renderer:'canvas', width:1043, height:1605});
chart.setOption({animation:false, backgroundColor:'#fff', grid:grids, xAxis:xAxes, yAxis:yAxes, series, graphic:graphics});
</script>
</body></html>
